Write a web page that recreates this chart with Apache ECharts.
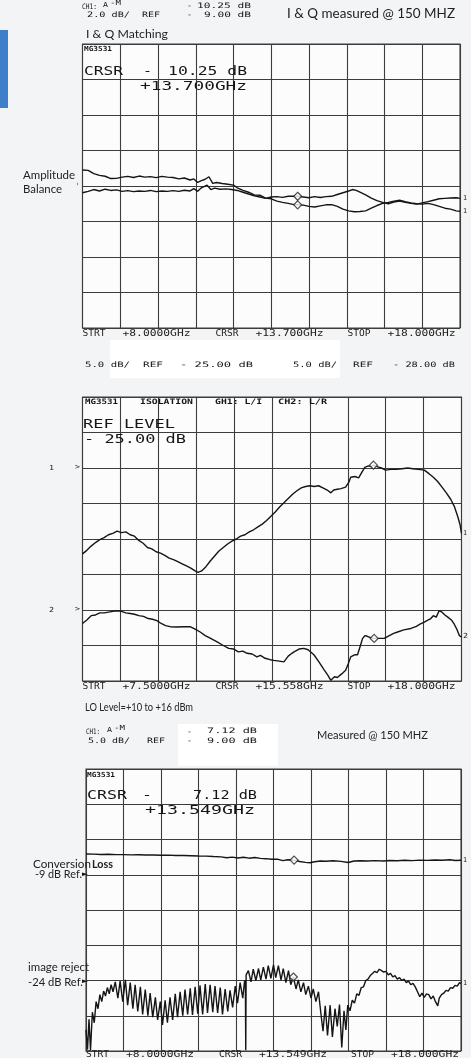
<!DOCTYPE html>
<html><head><meta charset="utf-8">
<script src="https://cdn.jsdelivr.net/npm/echarts@6/dist/echarts.min.js"></script>
<style>html,body{margin:0;padding:0;background:#f3f4f6}#c{width:471px;height:1058px}</style>
</head><body><div id="c"></div><script>
// ---------- DATA ----------
// Panel 1: I & Q amplitude balance, GHz vs dB (2 dB/div, ref -9 dB)
const p1Range = [8, 18];
const p1Ref = -9, p1Div = 2;
const p1Cursor = 13.7;
const p1TraceA = [[8.00,-8.10],[8.15,-8.12],[8.30,-8.30],[8.45,-8.40],[8.60,-8.45],[8.75,-8.58],[8.90,-8.57],[9.05,-8.50],[9.20,-8.46],[9.35,-8.52],[9.50,-8.44],[9.65,-8.50],[9.80,-8.47],[9.95,-8.53],[10.10,-8.46],[10.25,-8.50],[10.40,-8.52],[10.55,-8.60],[10.70,-8.55],[10.85,-8.66],[10.95,-8.60],[11.05,-8.80],[11.15,-8.70],[11.25,-8.62],[11.35,-8.48],[11.45,-8.85],[11.55,-8.80],[11.70,-8.86],[11.85,-8.90],[12.00,-8.95],[12.10,-9.10],[12.25,-9.25],[12.40,-9.35],[12.55,-9.50],[12.70,-9.52],[12.85,-9.68],[13.00,-9.72],[13.15,-9.85],[13.30,-9.92],[13.45,-9.98],[13.60,-10.05],[13.70,-10.06],[13.85,-10.08],[14.00,-10.15],[14.15,-10.18],[14.30,-10.12],[14.45,-10.06],[14.60,-10.05],[14.75,-10.15],[14.90,-10.30],[15.05,-10.40],[15.20,-10.45],[15.35,-10.44],[15.50,-10.40],[15.65,-10.25],[15.80,-10.10],[15.95,-9.98],[16.10,-9.92],[16.25,-9.85],[16.40,-9.80],[16.55,-9.88],[16.70,-9.95],[16.85,-10.00],[17.00,-10.02],[17.15,-9.98],[17.30,-10.05],[17.45,-10.15],[17.60,-10.25],[17.75,-10.30],[17.90,-10.40],[18.00,-10.42]];
const p1TraceB = [[8.00,-9.38],[8.15,-9.30],[8.30,-9.20],[8.45,-9.28],[8.60,-9.18],[8.75,-9.25],[8.90,-9.22],[9.05,-9.30],[9.20,-9.26],[9.35,-9.32],[9.50,-9.28],[9.65,-9.30],[9.80,-9.25],[9.95,-9.32],[10.10,-9.28],[10.25,-9.30],[10.40,-9.26],[10.55,-9.30],[10.70,-9.24],[10.85,-9.28],[10.95,-9.15],[11.05,-9.30],[11.15,-9.10],[11.30,-8.95],[11.40,-9.20],[11.50,-9.12],[11.65,-9.18],[11.80,-9.16],[11.95,-9.20],[12.10,-9.25],[12.25,-9.35],[12.40,-9.45],[12.55,-9.55],[12.70,-9.62],[12.85,-9.70],[13.00,-9.62],[13.15,-9.60],[13.30,-9.64],[13.45,-9.58],[13.60,-9.57],[13.70,-9.58],[13.85,-9.62],[14.00,-9.66],[14.15,-9.60],[14.30,-9.65],[14.45,-9.60],[14.60,-9.58],[14.75,-9.48],[14.90,-9.38],[15.05,-9.28],[15.15,-9.20],[15.25,-9.25],[15.35,-9.35],[15.50,-9.50],[15.65,-9.68],[15.80,-9.82],[15.95,-9.92],[16.10,-10.00],[16.25,-9.90],[16.40,-9.85],[16.55,-9.92],[16.70,-9.98],[16.85,-10.02],[17.00,-9.95],[17.15,-9.88],[17.30,-9.80],[17.45,-9.72],[17.60,-9.70],[17.75,-9.68],[17.90,-9.66],[18.00,-9.70]];

// Panel 2: isolation, 5 dB/div, CH1 ref -25 dB, CH2 ref -28 dB
const p2Range = [7.5, 18];
const p2Ref1 = -25, p2Ref2 = -28, p2Div = 5;
const p2Cursor = 15.558;
const p2LI = [[7.50,-37.1],[7.62,-36.6],[7.74,-36.0],[7.86,-35.5],[7.98,-35.1],[8.10,-34.8],[8.22,-34.4],[8.34,-34.2],[8.46,-33.9],[8.58,-34.1],[8.70,-34.0],[8.82,-34.4],[8.94,-34.6],[9.06,-35.2],[9.18,-35.6],[9.30,-36.2],[9.42,-36.4],[9.54,-36.8],[9.66,-37.0],[9.78,-37.3],[9.90,-37.7],[10.02,-37.9],[10.14,-38.2],[10.26,-38.5],[10.38,-38.8],[10.50,-39.1],[10.62,-39.5],[10.70,-39.7],[10.80,-39.5],[10.92,-38.9],[11.04,-38.1],[11.16,-37.4],[11.28,-36.7],[11.40,-36.2],[11.52,-35.7],[11.64,-35.3],[11.76,-35.0],[11.88,-34.6],[12.00,-34.4],[12.12,-34.0],[12.24,-33.7],[12.36,-33.3],[12.48,-32.9],[12.60,-32.4],[12.72,-31.8],[12.84,-31.2],[12.96,-30.5],[13.08,-29.9],[13.20,-29.3],[13.32,-28.7],[13.44,-28.2],[13.56,-27.8],[13.68,-27.6],[13.80,-27.5],[13.92,-27.6],[14.04,-27.5],[14.16,-27.8],[14.28,-28.1],[14.38,-28.5],[14.46,-28.1],[14.56,-28.0],[14.66,-27.9],[14.79,-27.7],[14.88,-27.0],[14.93,-26.3],[15.05,-26.2],[15.15,-26.4],[15.25,-25.5],[15.32,-24.9],[15.42,-24.7],[15.50,-24.8],[15.56,-24.6],[15.66,-24.8],[15.78,-25.0],[15.90,-25.3],[16.05,-25.2],[16.20,-25.2],[16.35,-25.1],[16.51,-25.0],[16.65,-25.1],[16.80,-25.2],[16.97,-25.3],[17.10,-25.8],[17.22,-26.3],[17.34,-26.9],[17.46,-27.7],[17.58,-28.5],[17.70,-29.4],[17.80,-30.4],[17.90,-31.9],[17.96,-33.0],[18.00,-34.2]];
const p2LR = [[7.50,-29.9],[7.62,-29.4],[7.74,-28.8],[7.86,-28.7],[7.98,-28.4],[8.10,-28.4],[8.22,-28.3],[8.34,-28.2],[8.46,-28.1],[8.58,-28.2],[8.70,-28.4],[8.82,-28.5],[8.94,-28.6],[9.06,-28.8],[9.19,-28.9],[9.32,-29.2],[9.44,-29.3],[9.56,-29.5],[9.68,-29.9],[9.80,-30.2],[9.93,-30.35],[10.10,-30.4],[10.30,-30.35],[10.48,-30.35],[10.62,-30.7],[10.76,-31.1],[10.90,-31.6],[11.05,-32.0],[11.23,-32.5],[11.40,-33.0],[11.55,-33.4],[11.69,-33.5],[11.82,-33.9],[11.94,-33.8],[12.06,-34.1],[12.20,-34.2],[12.33,-34.6],[12.43,-34.4],[12.56,-34.8],[12.70,-35.0],[12.80,-35.1],[12.95,-35.2],[13.08,-35.3],[13.20,-34.5],[13.30,-34.1],[13.36,-33.9],[13.50,-33.5],[13.63,-33.4],[13.75,-33.6],[13.91,-34.3],[14.05,-35.3],[14.19,-36.4],[14.30,-37.2],[14.38,-37.9],[14.48,-37.4],[14.56,-37.5],[14.68,-37.0],[14.79,-36.5],[14.86,-35.6],[14.93,-34.6],[15.05,-34.3],[15.12,-34.3],[15.20,-33.0],[15.26,-32.0],[15.33,-31.6],[15.39,-31.7],[15.48,-31.9],[15.58,-32.0],[15.70,-32.0],[15.86,-32.0],[16.00,-31.6],[16.12,-31.3],[16.23,-31.1],[16.40,-30.8],[16.60,-30.6],[16.75,-30.3],[16.85,-30.0],[16.97,-29.7],[17.08,-29.4],[17.15,-29.2],[17.22,-28.8],[17.30,-29.0],[17.38,-28.1],[17.46,-28.3],[17.54,-28.7],[17.62,-29.0],[17.72,-29.4],[17.80,-30.0],[17.88,-30.8],[17.94,-31.6],[18.00,-31.8]];

// Panel 3: conversion loss and image reject, 5 dB/div, ref -9 dB
const p3Range = [8, 18];
const p3Ref = -9, p3Div = 5;
const p3Cursor = 13.549;
const p3Conv = [[8.00,-6.06],[8.20,-6.08],[8.40,-6.12],[8.60,-6.10],[8.80,-6.15],[9.00,-6.14],[9.20,-6.18],[9.40,-6.16],[9.60,-6.20],[9.80,-6.19],[10.00,-6.24],[10.20,-6.22],[10.40,-6.27],[10.60,-6.28],[10.80,-6.30],[11.00,-6.34],[11.20,-6.36],[11.40,-6.42],[11.60,-6.46],[11.75,-6.58],[11.90,-6.50],[12.05,-6.62],[12.20,-6.52],[12.35,-6.65],[12.50,-6.55],[12.65,-6.68],[12.80,-6.72],[12.95,-6.80],[13.10,-6.78],[13.25,-7.00],[13.38,-6.88],[13.55,-6.92],[13.70,-7.12],[13.85,-7.25],[13.97,-7.30],[14.10,-7.15],[14.25,-7.05],[14.40,-7.08],[14.59,-7.02],[14.80,-7.10],[14.99,-7.26],[15.15,-7.05],[15.31,-7.02],[15.50,-7.05],[15.70,-7.00],[15.93,-7.04],[16.10,-6.98],[16.30,-7.02],[16.50,-6.95],[16.70,-7.00],[16.90,-6.92],[17.10,-6.96],[17.30,-6.90],[17.50,-6.95],[17.70,-6.88],[17.85,-6.98],[18.00,-6.95]];
const p3Image = [[8.00,-31.0],[8.04,-33.8],[8.08,-29.5],[8.12,-33.9],[8.17,-28.5],[8.22,-30.0],[8.27,-27.0],[8.32,-28.0],[8.37,-26.0],[8.42,-27.0],[8.47,-25.5],[8.52,-26.2],[8.57,-25.0],[8.62,-25.9],[8.67,-24.6],[8.72,-25.6],
[8.78,-24.2],[8.85,-26.5],[8.91,-24.1],[8.98,-27.0],[9.05,-23.9],[9.11,-27.5],[9.18,-24.3],[9.25,-28.0],[9.31,-24.6],[9.38,-28.4],[9.45,-24.9],[9.51,-28.8],[9.58,-25.3],[9.65,-29.0],[9.71,-25.8],[9.78,-29.2],[9.85,-26.4],[9.91,-29.6],
[9.98,-27.0],[10.04,-30.3],[10.11,-26.8],[10.17,-30.0],[10.24,-26.4],[10.31,-29.6],
[10.38,-25.9],[10.44,-29.2],[10.51,-25.6],[10.58,-29.0],[10.64,-25.3],[10.71,-28.8],[10.78,-25.1],[10.84,-28.9],[10.91,-24.9],[10.98,-28.7],[11.04,-24.7],[11.11,-28.8],[11.18,-24.5],[11.24,-28.6],[11.31,-24.6],[11.38,-28.5],[11.44,-24.8],[11.51,-28.6],[11.58,-25.0],[11.64,-28.8],[11.71,-25.2],[11.78,-28.4],[11.84,-25.4],[11.91,-27.8],[11.98,-24.8],[12.04,-27.2],[12.11,-24.3],[12.18,-26.5],[12.23,-24.0],
[12.25,-24.3],[12.26,-33.9],[12.27,-23.2],
[12.33,-22.6],[12.40,-24.2],[12.46,-22.4],[12.53,-24.0],[12.60,-22.3],[12.66,-23.9],[12.73,-22.1],[12.80,-23.8],[12.86,-21.9],[12.93,-23.7],[13.00,-21.8],[13.06,-23.6],[13.13,-21.9],[13.20,-23.9],[13.26,-22.3],[13.33,-24.3],[13.40,-22.6],[13.46,-24.6],
[13.53,-23.5],[13.60,-25.2],[13.66,-23.9],[13.73,-25.6],[13.80,-24.3],[13.86,-26.0],[13.93,-24.8],[14.00,-26.5],[14.06,-25.2],[14.13,-27.0],[14.20,-25.6],
[14.26,-28.5],[14.32,-31.2],[14.38,-27.6],[14.44,-31.8],[14.51,-27.5],[14.57,-32.0],[14.64,-28.0],[14.70,-30.5],[14.76,-27.4],[14.82,-33.5],[14.88,-28.3],[14.93,-31.0],
[14.98,-27.5],[15.04,-28.3],[15.10,-26.8],[15.16,-27.2],[15.22,-25.9],[15.28,-26.1],[15.34,-25.0],[15.40,-24.9],[15.46,-24.0],[15.52,-23.8],[15.58,-23.3],[15.64,-23.0],[15.70,-22.7],[15.76,-22.9],[15.82,-22.4],[15.88,-22.6],
[15.94,-22.8],[16.00,-22.7],[16.06,-23.2],[16.12,-23.0],[16.18,-23.5],[16.24,-23.3],[16.30,-23.8],[16.36,-23.6],[16.42,-24.0],[16.48,-23.8],[16.54,-24.3],[16.60,-24.1],[16.66,-24.6],[16.72,-24.4],[16.78,-24.9],
[16.84,-25.6],[16.90,-26.3],[16.96,-25.8],[17.02,-26.4],[17.08,-25.9],[17.14,-26.0],[17.20,-26.6],[17.26,-26.2],[17.32,-27.0],[17.38,-27.6],[17.42,-26.5],
[17.48,-26.0],[17.54,-25.8],[17.60,-25.4],[17.66,-25.5],[17.72,-25.0],[17.78,-25.1],[17.84,-24.7],[17.90,-24.8],[17.96,-24.3],[18.00,-24.4]];

// Footer (tick) labels
const p1Footer = ['STRT','+8.0000GHz','CRSR','+13.700GHz','STOP','+18.000GHz'];
const p2Footer = ['STRT','+7.5000GHz','CRSR','+15.558GHz','STOP','+18.000GHz'];
const p3Footer = ['STRT','+8.0000GHz','CRSR','+13.549GHz','STOP','+18.000GHz'];

// ---------- LAYOUT / STYLE ----------
const G = [
  {left:82.5, top:44, width:377.5, height:284},
  {left:82.5, top:397, width:379, height:284},
  {left:86, top:769, width:375, height:282}
];
const GRIDC = '#3c3c3c', TRACE = '#151515';
const MONO = '"DejaVu Sans Mono"', SANS = 'Lato';
const ctx = document.createElement('canvas').getContext('2d');
function T(text, x1, x2, y, size, fam, bold, fill) {
  const w = bold ? 'bold' : 'normal';
  ctx.font = w + ' ' + size + 'px ' + fam;
  const m = ctx.measureText(text).width || 1;
  const sx = x2 ? (x2 - x1) / m : 1;
  return {type:'text', x:x1, y:y, scaleX:sx, scaleY:1, z:100, silent:true,
    style:{text:text, fontSize:size, fontFamily:fam, fontWeight:w, fill:fill||'#151515',
      textAlign:'left', textVerticalAlign:'middle', align:'left', verticalAlign:'middle'}};
}
function at(arr, f){ let b=arr[0]; for (const p of arr) if (Math.abs(p[0]-f) < Math.abs(b[0]-f)) b=p; return b; }

const footX = [[0,23],[40,108],[133,156],[173,241],[265,288],[305,373]];
function footer(labels, gx, y) {
  return labels.map((t,i)=>T(t, gx+footX[i][0], gx+footX[i][1], y, 8.5, MONO, false, '#222'));
}

const graphics = [
  {type:'rect', shape:{x:0,y:30,width:8,height:78}, style:{fill:'#3f7ec8'}, z:1},
  {type:'rect', shape:{x:110,y:340,width:230,height:38}, style:{fill:'#ffffff'}, z:0},
  {type:'rect', shape:{x:178,y:724,width:100,height:42}, style:{fill:'#ffffff'}, z:0},
  // header 1
  T('CH1:', 82, 97, 7, 7.5, MONO), T('A', 103, 108, 5, 7, MONO), T('-M', 110, 121, 3.5, 7, MONO),
  T('-', 187, 192, 6, 7.5, MONO), T('10.25 dB', 197, 251, 6, 7.5, MONO),
  T('2.0 dB/', 87, 130, 15, 7.5, MONO), T('REF', 142, 160, 15, 7.5, MONO),
  T('-', 187, 192, 15, 7.5, MONO), T('9.00 dB', 204, 251, 15, 7.5, MONO),
  T('I & Q measured @ 150 MHZ', 287, 455, 14, 13, SANS, false, '#222'),
  T('I & Q Matching', 86, 168, 34, 12, SANS, false, '#222'),
  // panel 1 inside
  T('MG3531', 84, 112, 49.5, 7, MONO, true),
  T('CRSR', 84, 123, 72, 13, MONO), T('-', 143, 152, 72, 13, MONO), T('10.25 dB', 168, 247, 72, 13, MONO),
  T('+13.700GHz', 140, 247, 87, 13, MONO),
  T('Amplitude', 23, 75, 175, 11, SANS, false, '#222'), T('Balance', 23, 62, 189, 11, SANS, false, '#222'),
  T('\u203a', 76, 79, 184, 7, MONO),
  T('1', 463, 467, 198, 7, MONO), T('1', 463, 467, 211, 7, MONO),
  ...footer(p1Footer, 82.5, 334),
  // header 2
  T('5.0 dB/', 85, 130, 365, 7.5, MONO), T('REF', 143, 163, 365, 7.5, MONO), T('- 25.00 dB', 180, 253, 365, 7.5, MONO),
  T('5.0 dB/', 293, 337, 365, 7.5, MONO), T('REF', 353, 373, 365, 7.5, MONO), T('- 28.00 dB', 393, 455, 365, 7.5, MONO),
  // panel 2 inside
  T('MG3531', 85, 118, 402, 7.5, MONO, true), T('ISOLATION', 140, 193, 402, 7.5, MONO, true),
  T('GH1: L/I', 215, 262, 402, 7.5, MONO, true), T('CH2: L/R', 278, 327, 402, 7.5, MONO, true),
  T('REF LEVEL', 83, 175, 425, 13, MONO), T('- 25.00 dB', 84, 186, 440, 13, MONO),
  T('1', 49, 54, 468, 7, MONO), T('>', 75, 80, 467, 7, MONO),
  T('2', 49, 54, 610, 7, MONO), T('>', 75, 80, 609, 7, MONO),
  T('1', 463, 467, 533, 7, MONO), T('2', 463, 468, 636, 7, MONO),
  ...footer(p2Footer, 82.5, 687),
  T('LO Level=+10 to +16 dBm', 85, 193, 708, 10.5, SANS, false, '#222'),
  // header 3
  T('CH1:', 86, 100, 732, 7.5, MONO), T('A', 107, 112, 730, 7, MONO), T('-M', 114, 125, 728.5, 7, MONO),
  T('-', 187, 192, 732, 7.5, MONO), T('7.12 dB', 207, 257, 731, 7.5, MONO),
  T('5.0 dB/', 88, 130, 741.5, 7.5, MONO), T('REF', 147, 165, 741.5, 7.5, MONO),
  T('-', 187, 192, 741, 7.5, MONO), T('9.00 dB', 207, 257, 741, 7.5, MONO),
  T('Measured @ 150 MHZ', 317, 428, 735, 12, SANS, false, '#222'),
  // panel 3 inside
  T('MG3531', 87, 115, 775, 7, MONO, true),
  T('CRSR', 87, 127, 796, 13, MONO), T('-', 142, 152, 796, 13, MONO), T('7.12 dB', 193, 257, 796, 13, MONO),
  T('+13.549GHz', 145, 255, 811, 13, MONO),
  T('Conversion', 33, 91, 864, 11, SANS, false, '#222'), T('Loss', 92, 113, 864, 11, SANS, true, '#222'),
  T('-9 dB Ref.', 35, 82, 874, 11, SANS, false, '#222'), T('\u25B8', 82, 88, 874, 7, 'DejaVu Sans'),
  T('image reject', 28, 89, 967, 11, SANS, false, '#222'),
  T('-24 dB Ref.', 28, 83, 982, 11, SANS, false, '#222'), T('\u25B8', 82, 88, 981, 7, 'DejaVu Sans'),
  T('1', 463, 467, 860, 7, MONO), T('1', 463, 467, 983, 7, MONO),
  ...footer(p3Footer, 86, 1055)
];

// ---------- AXES ----------
const xAxis = [], yAxis = [];
function divX(g){ return {type:'value', gridIndex:g, min:0, max:10, interval:1, axisLabel:{show:false}, axisTick:{show:false}, axisLine:{show:false}, splitLine:{show:true, lineStyle:{color:GRIDC, width:1.1}}}; }
function divY(g){ return {type:'value', gridIndex:g, min:0, max:8, interval:1, axisLabel:{show:false}, axisTick:{show:false}, axisLine:{show:false}, splitLine:{show:true, lineStyle:{color:GRIDC, width:1.1}}}; }
function dataAx(g, mn, mx){ return {type:'value', gridIndex:g, min:mn, max:mx, show:false, splitLine:{show:false}}; }
xAxis.push(dataAx(0, p1Range[0], p1Range[1]), divX(0));
xAxis.push(dataAx(1, p2Range[0], p2Range[1]), divX(1));
xAxis.push(dataAx(2, p3Range[0], p3Range[1]), divX(2));
yAxis.push(dataAx(0, p1Ref - 4*p1Div, p1Ref + 4*p1Div), divY(0));          // 0,1
yAxis.push(dataAx(1, p2Ref1 - 6*p2Div, p2Ref1 + 2*p2Div));                 // 2
yAxis.push(dataAx(1, p2Ref2 - 2*p2Div, p2Ref2 + 6*p2Div), divY(1));        // 3,4
yAxis.push(dataAx(2, p3Ref - 5*p3Div, p3Ref + 3*p3Div), divY(2));          // 5,6

function trace(xi, yi, data){ return {type:'line', xAxisIndex:xi, yAxisIndex:yi, data:data, showSymbol:false, symbol:'none', lineStyle:{color:TRACE, width:1.4}, z:5, animation:false}; }
function marks(xi, yi, pts){ return {type:'scatter', xAxisIndex:xi, yAxisIndex:yi, data:pts, symbol:'diamond', symbolSize:[8,8], itemStyle:{color:'#fff', borderColor:'#222', borderWidth:1.2}, z:6, animation:false}; }

const chart = echarts.init(document.getElementById('c'), null, {renderer:'canvas'});
chart.setOption({
  backgroundColor:'#f3f4f6',
  animation:false,
  grid: G.map(g=>Object.assign({show:true, borderColor:GRIDC, borderWidth:1.1, backgroundColor:'#fcfcfc', containLabel:false}, g)),
  xAxis: xAxis, yAxis: yAxis,
  series: [
    trace(0,0,p1TraceA), trace(0,0,p1TraceB),
    marks(0,0,[at(p1TraceA,p1Cursor), at(p1TraceB,p1Cursor)]),
    trace(2,2,p2LI), trace(2,3,p2LR),
    marks(2,2,[at(p2LI,p2Cursor)]), marks(2,3,[at(p2LR,p2Cursor)]),
    trace(4,5,p3Conv), trace(4,5,p3Image),
    marks(4,5,[at(p3Conv,p3Cursor), at(p3Image,p3Cursor)])
  ],
  graphic: graphics
});
</script></body></html>
